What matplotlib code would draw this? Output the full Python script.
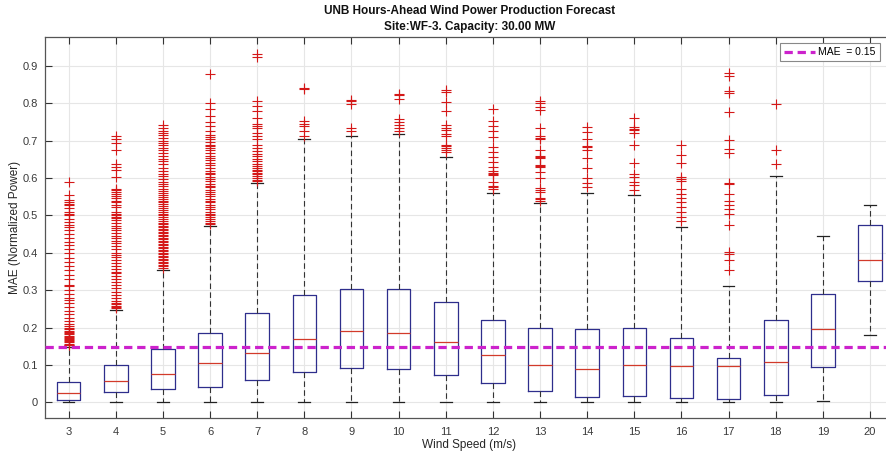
import matplotlib
matplotlib.use("Agg")
import matplotlib.pyplot as plt
from matplotlib.lines import Line2D

plt.rcParams['font.family'] = ['Liberation Sans', 'DejaVu Sans']

# ---------------- data ----------------
wind_speeds = [3, 4, 5, 6, 7, 8, 9, 10, 11, 12, 13, 14, 15, 16, 17, 18, 19, 20]
medians = [0.025, 0.057, 0.076, 0.105, 0.132, 0.170, 0.190, 0.185, 0.160, 0.127,
           0.100, 0.089, 0.100, 0.097, 0.098, 0.107, 0.196, 0.380]
q1s = [0.005, 0.028, 0.036, 0.040, 0.060, 0.080, 0.092, 0.088, 0.074, 0.051,
       0.030, 0.014, 0.016, 0.012, 0.008, 0.019, 0.095, 0.324]
q3s = [0.054, 0.100, 0.142, 0.185, 0.238, 0.288, 0.302, 0.302, 0.268, 0.221,
       0.199, 0.196, 0.199, 0.172, 0.118, 0.219, 0.290, 0.475]
whisker_low = [0.0, 0.0, 0.0, 0.0, 0.0, 0.0, 0.0, 0.0, 0.0, 0.0,
               0.0, 0.0, 0.0, 0.0, 0.0, 0.0, 0.002, 0.180]
whisker_high = [0.149, 0.247, 0.354, 0.472, 0.587, 0.704, 0.714, 0.717, 0.657, 0.559,
                0.534, 0.559, 0.556, 0.469, 0.310, 0.605, 0.445, 0.529]

outliers_3 = [0.589, 0.556, 0.541, 0.537, 0.532, 0.527, 0.52, 0.51, 0.505, 0.5, 0.49,
              0.483, 0.475, 0.468, 0.46, 0.45, 0.44, 0.43, 0.42, 0.41, 0.4, 0.385,
              0.375, 0.365, 0.355, 0.34, 0.33, 0.315, 0.31, 0.3, 0.29, 0.28, 0.275,
              0.265, 0.255, 0.245, 0.235, 0.225, 0.218, 0.21, 0.205, 0.2, 0.196,
              0.192, 0.188, 0.185, 0.182, 0.178, 0.175, 0.172, 0.169, 0.166, 0.163,
              0.16, 0.157, 0.154, 0.152]
outliers_4 = [0.712, 0.705, 0.694, 0.676, 0.638, 0.63, 0.622, 0.603, 0.571, 0.567,
              0.562, 0.557, 0.552, 0.547, 0.54, 0.535, 0.528, 0.522, 0.508, 0.504,
              0.5, 0.497, 0.494, 0.488, 0.48, 0.472, 0.466, 0.46, 0.452, 0.445, 0.44,
              0.432, 0.425, 0.418, 0.41, 0.4, 0.395, 0.388, 0.38, 0.372, 0.365, 0.358,
              0.35, 0.345, 0.338, 0.33, 0.322, 0.315, 0.305, 0.295, 0.287, 0.28,
              0.272, 0.266, 0.262, 0.258, 0.255, 0.252]
outliers_5 = [0.743, 0.735, 0.727, 0.72, 0.715, 0.708, 0.7, 0.695, 0.688, 0.68, 0.675,
              0.668, 0.66, 0.652, 0.645, 0.637, 0.628, 0.62, 0.612, 0.605, 0.598,
              0.59, 0.585, 0.578, 0.57, 0.565, 0.56, 0.555, 0.55, 0.545, 0.54, 0.535,
              0.53, 0.525, 0.52, 0.515, 0.51, 0.505, 0.5, 0.495, 0.49, 0.485, 0.48,
              0.476, 0.472, 0.468, 0.464, 0.46, 0.456, 0.452, 0.448, 0.444, 0.44,
              0.436, 0.432, 0.428, 0.424, 0.42, 0.416, 0.412, 0.408, 0.404, 0.4,
              0.396, 0.392, 0.388, 0.384, 0.38, 0.376, 0.372, 0.368, 0.364, 0.36]
outliers_6 = [0.88, 0.8, 0.785, 0.767, 0.75, 0.74, 0.727, 0.715, 0.71, 0.705, 0.698,
              0.69, 0.685, 0.68, 0.675, 0.668, 0.66, 0.655, 0.648, 0.64, 0.635, 0.628,
              0.62, 0.615, 0.61, 0.603, 0.598, 0.592, 0.585, 0.58, 0.575, 0.568,
              0.562, 0.558, 0.552, 0.545, 0.54, 0.535, 0.528, 0.522, 0.516, 0.51,
              0.505, 0.5, 0.495, 0.49, 0.485, 0.48, 0.476]
outliers_7 = [0.931, 0.924, 0.806, 0.793, 0.78, 0.76, 0.745, 0.74, 0.735, 0.72, 0.7125,
              0.705, 0.69, 0.68, 0.672, 0.665, 0.659, 0.652, 0.645, 0.638, 0.632,
              0.628, 0.622, 0.618, 0.614, 0.61, 0.605, 0.6, 0.596, 0.592]
outliers_8 = [0.84, 0.8375, 0.753, 0.746, 0.739, 0.726, 0.712]
outliers_9 = [0.81, 0.806, 0.799, 0.735, 0.726]
outliers_10 = [0.825, 0.822, 0.813, 0.757, 0.75, 0.743, 0.735, 0.726]
outliers_11 = [0.835, 0.83, 0.804, 0.78, 0.741, 0.735, 0.73, 0.717, 0.7125, 0.69,
               0.685, 0.68, 0.675, 0.67]
outliers_12 = [0.784, 0.753, 0.74, 0.727, 0.711, 0.684, 0.67, 0.657, 0.644, 0.63,
               0.62, 0.615, 0.612, 0.608, 0.59, 0.578, 0.575, 0.572]
outliers_13 = [0.8075, 0.8, 0.791, 0.782, 0.733, 0.712, 0.708, 0.705, 0.675, 0.66,
               0.657, 0.654, 0.635, 0.632, 0.629, 0.617, 0.599, 0.574, 0.568, 0.563,
               0.546, 0.543, 0.54]
outliers_14 = [0.738, 0.724, 0.7046, 0.685, 0.682, 0.675, 0.6526, 0.628, 0.599,
               0.587, 0.5765]
outliers_15 = [0.76, 0.738, 0.732, 0.729, 0.7216, 0.688, 0.641, 0.612, 0.603, 0.59,
               0.581, 0.569]
outliers_16 = [0.688, 0.6616, 0.641, 0.603, 0.598, 0.5927, 0.572, 0.5586, 0.548,
               0.536, 0.523, 0.509, 0.496, 0.485]
outliers_17 = [0.881, 0.874, 0.832, 0.827, 0.778, 0.702, 0.677, 0.668, 0.588, 0.585,
               0.5586, 0.539, 0.529, 0.516, 0.505, 0.4736, 0.402, 0.3975, 0.382, 0.3545]
outliers_18 = [0.7986, 0.675, 0.637]
outliers_19 = []
outliers_20 = []

outliers = [outliers_3, outliers_4, outliers_5, outliers_6, outliers_7, outliers_8,
            outliers_9, outliers_10, outliers_11, outliers_12, outliers_13, outliers_14,
            outliers_15, outliers_16, outliers_17, outliers_18, outliers_19, outliers_20]

mae_value = 0.147
mae_label = "MAE  = 0.15"

title_lines = ["UNB Hours-Ahead Wind Power Production Forecast",
               "Site:WF-3. Capacity: 30.00 MW"]
x_label = "Wind Speed (m/s)"
y_label = "MAE (Normalized Power)"
y_ticks = [0, 0.1, 0.2, 0.3, 0.4, 0.5, 0.6, 0.7, 0.8, 0.9]
y_tick_labels = ["0", "0.1", "0.2", "0.3", "0.4", "0.5", "0.6", "0.7", "0.8", "0.9"]

# ---------------- figure ----------------
W, H = 886, 457
fig = plt.figure(figsize=(W / 100, H / 100), dpi=100)
ax_l, ax_r, ax_t, ax_b = 45, 893.6, 37.3, 418.3
ax = fig.add_axes([ax_l / W, 1 - ax_b / H, (ax_r - ax_l) / W, (ax_b - ax_t) / H])

stats = []
for i, ws in enumerate(wind_speeds):
    stats.append(dict(med=medians[i], q1=q1s[i], q3=q3s[i],
                      whislo=whisker_low[i], whishi=whisker_high[i],
                      fliers=outliers[i], label=str(ws)))

box_color = '#2e2e8c'
ax.bxp(stats, positions=wind_speeds, widths=0.5, showfliers=True,
       boxprops=dict(color=box_color, linewidth=0.9),
       medianprops=dict(color='#d23a2a', linewidth=0.9),
       whiskerprops=dict(color='#333333', linewidth=0.8, linestyle=(0, (5, 3))),
       capprops=dict(color='#222222', linewidth=0.9),
       flierprops=dict(marker='+', markeredgecolor='#d41818', markersize=6.5,
                       markeredgewidth=0.8, linestyle='none'),
       capwidths=0.25, zorder=3)

ax.axhline(mae_value, color='#cc22cc', linewidth=2.3, linestyle=(0, (2.6, 1.5)),
           zorder=4)

ax.set_xlim(2.5, 20.5)
ax.set_ylim(-0.043, 0.977)
ax.set_xticks(wind_speeds)
ax.set_xticklabels([str(w) for w in wind_speeds])
ax.set_yticks(y_ticks)
ax.set_yticklabels(y_tick_labels)

ax.grid(True, color='#e6e6e6', linewidth=0.8, zorder=0)
ax.set_axisbelow(True)
ax.tick_params(direction='in', length=5, width=0.8, color='#333333',
               labelcolor='#3a3a3a', labelsize=8, top=True, right=True, pad=5)
ax.tick_params(axis='x', pad=6)
for sp in ax.spines.values():
    sp.set_color('#555555')
    sp.set_linewidth(0.9)

ax.set_xlabel(x_label, fontsize=8.5, color='#262626', labelpad=2)
ax.set_ylabel(y_label, fontsize=8.5, color='#262626', labelpad=1)

ax.set_title(title_lines[0] + "\n" + title_lines[1], fontsize=8.5, fontweight='bold',
             color='#111111', pad=5, linespacing=1.45,
             family=['Liberation Sans Narrow', 'Liberation Sans', 'DejaVu Sans'])

handle = Line2D([], [], color='#cc22cc', linewidth=2.3, linestyle=(0, (2.6, 1.5)))
leg = ax.legend([handle], [mae_label], loc='upper right', fontsize=7.5,
                bbox_to_anchor=((880 - ax_l) / (ax_r - ax_l), 1 - (43 - ax_t) / (ax_b - ax_t)),
                borderaxespad=0, fancybox=False, framealpha=1, edgecolor='#888888',
                handlelength=3.0, handletextpad=0.3, borderpad=0.4)
leg.get_frame().set_linewidth(0.8)

fig.savefig("out.png", dpi=100)
